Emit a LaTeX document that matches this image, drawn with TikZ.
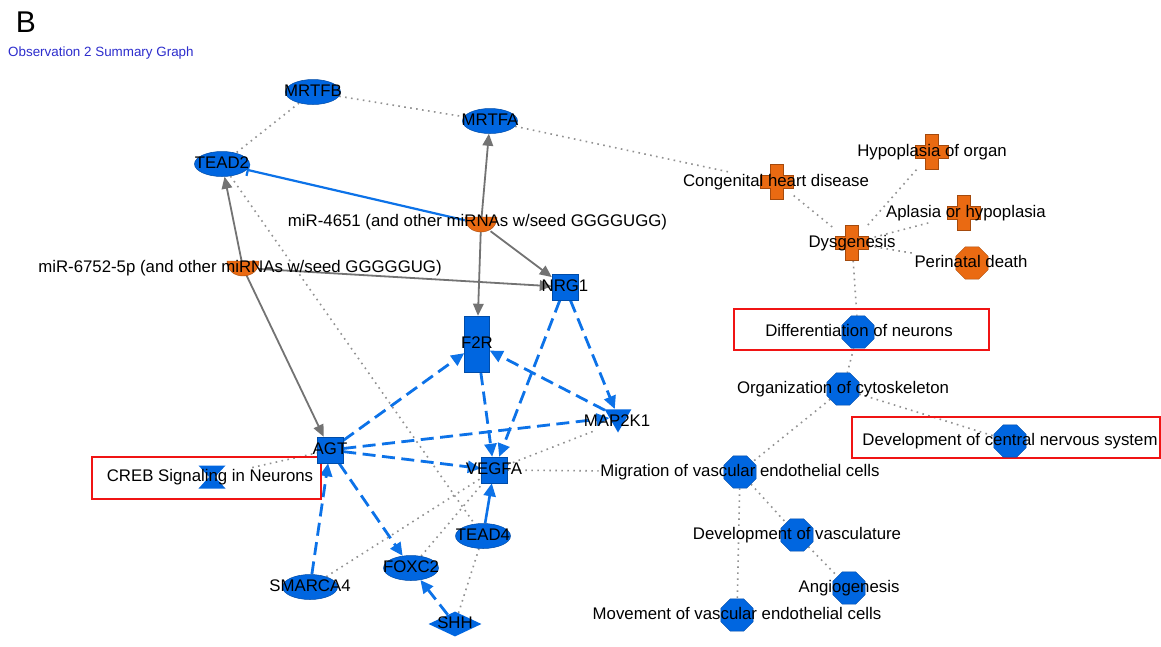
\documentclass[tikz,border=0pt]{standalone}
\usepackage{fontspec}
\setmainfont{Liberation Sans}
\usetikzlibrary{shapes.geometric,arrows.meta}
\pgfdeclarelayer{bglayer}
\pgfdeclarelayer{edgelayer}
\pgfsetlayers{bglayer,edgelayer,main}
\definecolor{nodeblue}{RGB}{0,102,224}
\definecolor{nodeorange}{RGB}{234,106,18}
\definecolor{edgeblue}{RGB}{12,114,232}
\definecolor{arrowgray}{RGB}{115,115,115}
\definecolor{dotgray}{RGB}{145,145,145}
\definecolor{titleblue}{RGB}{45,45,205}
\definecolor{boxred}{RGB}{240,20,20}
\tikzset{
  lbl/.style={inner sep=1.5pt, font=\fontsize{16.8}{18}\selectfont, text=black, text height=12.2pt, text depth=3.4pt},
  gene/.style={ellipse, fill=nodeblue, draw=nodeblue!75!black, line width=0.5pt, inner sep=0pt, minimum width=55pt, minimum height=25pt},
  sq/.style={rectangle, fill=nodeblue, draw=nodeblue!75!black, line width=0.5pt, inner sep=0pt, minimum size=26pt},
  tri/.style={regular polygon, regular polygon sides=3, shape border rotate=180, fill=nodeblue, inner sep=0pt, minimum size=31pt},
  dia/.style={diamond, fill=nodeblue, inner sep=0pt, minimum width=53pt, minimum height=25pt},
  octblue/.style={regular polygon, regular polygon sides=8, fill=nodeblue, draw=nodeblue!75!black, line width=0.4pt, inner sep=0pt, minimum size=35pt},
  octorange/.style={regular polygon, regular polygon sides=8, fill=nodeorange, draw=nodeorange!75!black, line width=0.4pt, inner sep=0pt, minimum size=35pt},
  holder/.style={rectangle, inner sep=0pt},
  redbox/.style={rectangle, draw=boxred, line width=2.6pt, inner sep=0pt},
  dotedge/.style={draw=dotgray, line width=1.6pt, dash pattern=on 1.6pt off 4.4pt},
  grayarrow/.style={draw=arrowgray, line width=1.8pt, -{Triangle[length=12pt,width=10.5pt]}},
  bluedash/.style={draw=edgeblue, line width=2.8pt, dash pattern=on 13pt off 6.5pt, -{Triangle[length=13pt,width=12pt]}},
  bluesolid/.style={draw=edgeblue, line width=2.6pt, -{Triangle[length=13pt,width=12pt]}},
  inhibit/.style={draw=edgeblue, line width=2.2pt, -{Bar[width=12pt]}},
}
\newcommand\drawplus[1]{\fill[nodeorange, draw=nodeorange!70!black, line width=0.4pt, shift={(#1)}] (-6.5,-17.5) -- (6.5,-17.5) -- (6.5,-6.5) -- (16.5,-6.5) -- (16.5,6.5) -- (6.5,6.5) -- (6.5,17.5) -- (-6.5,17.5) -- (-6.5,6.5) -- (-16.5,6.5) -- (-16.5,-6.5) -- (-6.5,-6.5) -- cycle;}
\newcommand\drawbowl[1]{\fill[nodeorange, draw=nodeorange!70!black, line width=0.4pt, shift={(#1)}] (-16,-7) -- (16,-7) .. controls (16,13) and (-16,13) .. (-16,-7) -- cycle;}
\newcommand\drawhourglass[1]{\fill[nodeblue, shift={(#1)}] (-13.5,-11.5) -- (13.5,-11.5) -- (3,0) -- (13.5,11.5) -- (-13.5,11.5) -- (-3,0) -- cycle;}
\begin{document}
\begin{tikzpicture}[x=1pt,y=-1pt]
\begin{pgfonlayer}{bglayer}
\fill[white] (0,0) rectangle (1161,646);
\end{pgfonlayer}
\useasboundingbox (0,0) rectangle (1161,646);

% heading
\node[inner sep=0pt, font=\fontsize{30}{32}\selectfont] (panel) at (26,22) {B};
\node[anchor=west, inner sep=0pt, font=\fontsize{13.4}{15}\selectfont, text=titleblue] (title) at (8,53.5) {Observation 2 Summary Graph};

% red highlight boxes
\node[redbox, minimum width=229pt, minimum height=42pt] (crebbox) at (206.5,478) {};
\node[redbox, minimum width=255pt, minimum height=41pt] (diffbox) at (861.5,329.5) {};
\node[redbox, minimum width=308pt, minimum height=41pt] (cnsbox) at (1006,437.5) {};

% gene shapes
\node[gene] (mrtfb) at (313,92) {};
\node[gene] (mrtfa) at (490,121) {};
\node[gene] (tead2) at (222,164) {};
\node[gene] (tead4) at (483,536) {};
\node[gene] (foxc2) at (411,568) {};
\node[gene] (smarca4) at (310,587) {};
\node[sq] (nrg1) at (565,287) {};
\node[sq] (agt) at (330,450) {};
\node[sq] (vegfa) at (494,470) {};
\node[sq, minimum width=25pt, minimum height=56pt] (f2r) at (477,344) {};
\node[tri] (map2k1) at (618,417) {};
\node[dia] (shh) at (455,624) {};
\node[holder, minimum width=27pt, minimum height=23pt] (creb) at (212,477) {};
\node[holder, minimum width=32pt, minimum height=14pt] (mir4651) at (481,224) {};
\node[holder, minimum width=32pt, minimum height=14pt] (mir6752) at (243,268) {};
\drawhourglass{creb}
\drawbowl{mir4651}
\drawbowl{mir6752}

% function shapes
\node[holder, minimum width=33pt, minimum height=35pt] (cong) at (777,182) {};
\node[holder, minimum width=33pt, minimum height=35pt] (hyp) at (932,152) {};
\node[holder, minimum width=33pt, minimum height=35pt] (apl) at (964,213) {};
\node[holder, minimum width=33pt, minimum height=35pt] (dys) at (852,243) {};
\drawplus{cong}
\drawplus{hyp}
\drawplus{apl}
\drawplus{dys}
\node[octorange] (peri) at (972,263) {};
\node[octblue] (diff) at (858,332) {};
\node[octblue] (org) at (843,389) {};
\node[octblue] (cns) at (1010,441) {};
\node[octblue] (mig) at (740,472) {};
\node[octblue] (vasc) at (797,535) {};
\node[octblue] (angio) at (849,588) {};
\node[octblue] (move) at (737,615) {};

% labels
\node[lbl] (mrtfb-l) at (313,92) {MRTFB};
\node[lbl] (mrtfa-l) at (490,121) {MRTFA};
\node[lbl] (tead2-l) at (222,164) {TEAD2};
\node[lbl] (tead4-l) at (483,536) {TEAD4};
\node[lbl] (foxc2-l) at (411,568) {FOXC2};
\node[lbl] (smarca4-l) at (310,587) {SMARCA4};
\node[lbl] (nrg1-l) at (565,287) {NRG1};
\node[lbl] (agt-l) at (330,450) {AGT};
\node[lbl] (vegfa-l) at (494,470) {VEGFA};
\node[lbl] (f2r-l) at (477,344) {F2R};
\node[lbl] (map2k1-l) at (617,422) {MAP2K1};
\node[lbl] (shh-l) at (455,624) {SHH};
\node[lbl] (creb-l) at (210,477) {CREB Signaling in Neurons};
\node[lbl] (mir4651-l) at (477.5,222) {miR-4651 (and other miRNAs w/seed GGGGUGG)};
\node[lbl] (mir6752-l) at (240,268) {miR-6752-5p (and other miRNAs w/seed GGGGGUG)};
\node[lbl] (cong-l) at (776,182) {Congenital heart disease};
\node[lbl] (hyp-l) at (932,152) {Hypoplasia of organ};
\node[lbl] (apl-l) at (966,213) {Aplasia or hypoplasia};
\node[lbl] (dys-l) at (852,243) {Dysgenesis};
\node[lbl] (peri-l) at (971,263) {Perinatal death};
\node[lbl] (diff-l) at (859,332) {Differentiation of neurons};
\node[lbl] (org-l) at (843,389) {Organization of cytoskeleton};
\node[lbl] (cns-l) at (1010,441) {Development of central nervous system};
\node[lbl] (mig-l) at (740,472) {Migration of vascular endothelial cells};
\node[lbl] (vasc-l) at (797,535) {Development of vasculature};
\node[lbl] (angio-l) at (849,588) {Angiogenesis};
\node[lbl] (move-l) at (737,615) {Movement of vascular endothelial cells};

% connectors
\begin{pgfonlayer}{edgelayer}
% dotted relations
\draw[dotedge] (mrtfb) -- (mrtfa);
\draw[dotedge] (mrtfb) -- (tead2);
\draw[dotedge] (mrtfa) -- (cong-l);
\draw[dotedge] (tead2) -- (tead4);
\draw[dotedge] (cong) -- (dys);
\draw[dotedge] (hyp) -- (dys);
\draw[dotedge] (dys) -- (apl-l);
\draw[dotedge] (dys) -- (peri-l);
\draw[dotedge] (dys) -- (diff);
\draw[dotedge] (diff) -- (org);
\draw[dotedge] (org) -- (cns);
\draw[dotedge] (org) -- (mig);
\draw[dotedge] (mig) -- (vasc);
\draw[dotedge] (mig) -- (move);
\draw[dotedge] (vasc) -- (angio);
\draw[dotedge] (vegfa) -- (mig-l);
\draw[dotedge] (creb-l) -- (agt);
\draw[dotedge] (smarca4) -- (vegfa);
\draw[dotedge] (foxc2) -- (vegfa);
\draw[dotedge] (shh) -- (tead4);
\draw[dotedge] (map2k1-l) -- (vegfa);
% gray solid arrows
\draw[grayarrow] (mir6752) -- (tead2);
\draw[grayarrow] (mir6752) -- (agt);
\draw[grayarrow] (mir6752) -- (nrg1);
\draw[grayarrow] (mir4651) -- (mrtfa);
\draw[grayarrow] (mir4651) -- (f2r);
\draw[grayarrow] (mir4651) -- (nrg1);
\draw[inhibit] (mir4651) -- (tead2);
% blue arrows
\draw[bluedash] (agt) -- (f2r);
\draw[bluedash] (f2r) -- (vegfa);
\draw[bluedash] (map2k1) -- (f2r);
\draw[bluedash] (nrg1) -- (vegfa);
\draw[bluedash] (nrg1) -- (map2k1);
\draw[bluedash] (agt) -- (map2k1);
\draw[bluedash] (agt) -- (vegfa);
\draw[bluedash] (agt) -- (foxc2);
\draw[bluedash] (smarca4) -- (agt);
\draw[bluedash] (shh) -- (foxc2);
\draw[bluesolid] (tead4) -- (vegfa);
\end{pgfonlayer}
\end{tikzpicture}
\end{document}
